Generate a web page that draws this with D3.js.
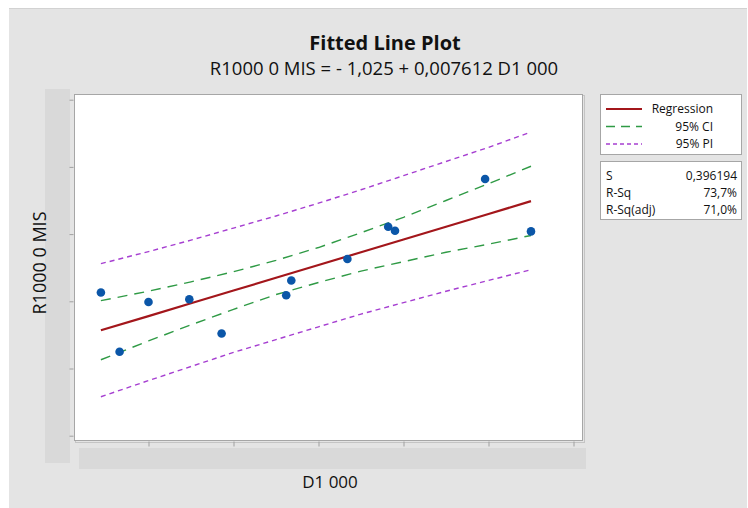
<!DOCTYPE html>
<html>
<head>
<meta charset="utf-8">
<script src="https://cdn.jsdelivr.net/npm/d3@7"></script>
<style>
  body { margin: 0; background: #fff; }
  text { font-family: "Open Sans", "Noto Sans", sans-serif; fill: #111; }
</style>
</head>
<body>
<svg width="748" height="508"></svg>
<script>
// data
var xVals = [472, 483, 500, 524, 543, 581, 584, 617, 641, 645, 698, 725];
var yVals = [3.13, 2.25, 2.99, 3.03, 2.52, 3.09, 3.31, 3.63, 4.11, 4.05, 4.82, 4.04];

// fitted line + bands, sampled along x
var bandX   = [472, 500, 525, 550, 575, 600, 625, 650, 675, 700, 725];
var fitY    = [2.57, 2.78, 2.97, 3.16, 3.35, 3.54, 3.73, 3.92, 4.11, 4.30, 4.49];
var ciLow   = [2.13, 2.41, 2.65, 2.88, 3.10, 3.28, 3.45, 3.59, 3.73, 3.85, 3.98];
var ciHigh  = [3.01, 3.15, 3.29, 3.44, 3.61, 3.80, 4.02, 4.25, 4.50, 4.75, 5.01];
var piLow   = [1.58, 1.82, 2.03, 2.24, 2.43, 2.62, 2.81, 2.98, 3.15, 3.31, 3.47];
var piHigh  = [3.56, 3.74, 3.91, 4.09, 4.27, 4.46, 4.66, 4.87, 5.08, 5.29, 5.52];

var xTicks = [500, 550, 600, 650, 700, 750];
var yTicks = [1, 2, 3, 4, 5, 6];

var legendItems = ["Regression", "95% CI", "95% PI"];
var statNames = ["S", "R-Sq", "R-Sq(adj)"];
var statValues = ["0,396194", "73,7%", "71,0%"];

var svg = d3.select("svg");

// grey panel
svg.append("rect").attr("x", 9).attr("y", 8).attr("width", 738).attr("height", 500)
   .attr("fill", "#e4e4e4");
svg.append("line").attr("x1", 9).attr("x2", 747).attr("y1", 8.5).attr("y2", 8.5)
   .attr("stroke", "#d2d2d2");

var plot = { left: 74, top: 94, right: 583, bottom: 441 };

var x = d3.scaleLinear().domain([500, 750]).range([148.5, 573.5]);
var y = d3.scaleLinear().domain([1, 6]).range([435.7, 99.7]);

// blocked label strips
svg.append("rect").attr("x", 45).attr("y", 89).attr("width", 25).attr("height", 374).attr("fill", "#d9d9d9");
svg.append("rect").attr("x", 79).attr("y", 448).attr("width", 507).attr("height", 21).attr("fill", "#d9d9d9");

// plot box with shadow
svg.append("rect").attr("x", plot.left + 1.5).attr("y", plot.top + 1.5)
   .attr("width", plot.right - plot.left).attr("height", plot.bottom - plot.top)
   .attr("fill", "none").attr("stroke", "#c4c4c4");
svg.append("rect").attr("x", plot.left + 0.5).attr("y", plot.top + 0.5)
   .attr("width", plot.right - plot.left - 1).attr("height", plot.bottom - plot.top - 1)
   .attr("fill", "#fff").attr("stroke", "#a6a6a6");

// axes (labels hidden in the original)
var xAxis = d3.axisBottom(x).tickValues(xTicks).tickSize(5).tickFormat("");
var yAxis = d3.axisLeft(y).tickValues(yTicks).tickSize(4).tickFormat("");
var gx = svg.append("g").attr("transform", "translate(0," + (plot.bottom + 0.5) + ")").call(xAxis);
var gy = svg.append("g").attr("transform", "translate(" + (plot.left - 0.5) + ",0)").call(yAxis);
gx.select(".domain").remove();
gy.select(".domain").remove();
svg.selectAll(".tick line").attr("stroke", "#a0a0a0");

svg.append("defs").append("clipPath").attr("id", "clip")
   .append("rect").attr("x", plot.left + 1).attr("y", plot.top + 1)
   .attr("width", plot.right - plot.left - 2).attr("height", plot.bottom - plot.top - 2);

var g = svg.append("g").attr("clip-path", "url(#clip)");

function band(vals) {
  return d3.line().x(function (d, i) { return x(bandX[i]); })
                  .y(function (d) { return y(d); })(vals);
}

var piStyle = { color: "#a63fd1", dash: "5,4" };
var ciStyle = { color: "#2f9a45", dash: "10,7" };

[piLow, piHigh].forEach(function (v) {
  g.append("path").attr("d", band(v)).attr("fill", "none")
   .attr("stroke", piStyle.color).attr("stroke-width", 1.4).attr("stroke-dasharray", piStyle.dash);
});
[ciLow, ciHigh].forEach(function (v) {
  g.append("path").attr("d", band(v)).attr("fill", "none")
   .attr("stroke", ciStyle.color).attr("stroke-width", 1.4).attr("stroke-dasharray", ciStyle.dash);
});
g.append("path").attr("d", band(fitY)).attr("fill", "none")
 .attr("stroke", "#a3161b").attr("stroke-width", 2.2);

g.selectAll("circle.pt").data(xVals).enter().append("circle")
 .attr("class", "pt")
 .attr("cx", function (d) { return x(d); })
 .attr("cy", function (d, i) { return y(yVals[i]); })
 .attr("r", 4.3)
 .attr("fill", "#0b56a8");

// titles
svg.append("text").attr("x", 385).attr("y", 50).attr("text-anchor", "middle")
   .style("font-size", "20px").style("font-weight", "bold").text("Fitted Line Plot");
svg.append("text").attr("x", 384).attr("y", 75).attr("text-anchor", "middle")
   .style("font-size", "18.5px").text("R1000 0 MIS = - 1,025 + 0,007612 D1 000");
svg.append("text").attr("x", 330).attr("y", 488).attr("text-anchor", "middle")
   .style("font-size", "17px").text("D1 000");
svg.append("text").attr("transform", "translate(46,263) rotate(-90)").attr("text-anchor", "middle")
   .style("font-size", "18px").text("R1000 0 MIS");

// legend
var lg = svg.append("g");
lg.append("rect").attr("x", 600.5).attr("y", 94.5).attr("width", 141).attr("height", 60)
  .attr("fill", "#fff").attr("stroke", "#a6a6a6");
var legStyles = [
  { color: "#a3161b", dash: null, w: 2.2 },
  { color: "#2f9a45", dash: "9,6", w: 1.5 },
  { color: "#a63fd1", dash: "4,3", w: 1.3 }
];
legendItems.forEach(function (name, i) {
  var yy = 109 + i * 17.5;
  lg.append("line").attr("x1", 606).attr("x2", 642).attr("y1", yy).attr("y2", yy)
    .attr("stroke", legStyles[i].color).attr("stroke-width", legStyles[i].w)
    .attr("stroke-dasharray", legStyles[i].dash);
  lg.append("text").attr("x", 713).attr("y", yy + 4).attr("text-anchor", "end")
    .style("font-size", "12px").text(name);
});

lg.append("rect").attr("x", 600.5).attr("y", 161.5).attr("width", 141).attr("height", 58)
  .attr("fill", "#fff").attr("stroke", "#a6a6a6");
statNames.forEach(function (name, i) {
  var yy = 176 + i * 17;
  lg.append("text").attr("x", 606).attr("y", yy + 4).style("font-size", "12px").text(name);
  lg.append("text").attr("x", 737).attr("y", yy + 4).attr("text-anchor", "end")
    .style("font-size", "12px").text(statValues[i]);
});
</script>
</body>
</html>
